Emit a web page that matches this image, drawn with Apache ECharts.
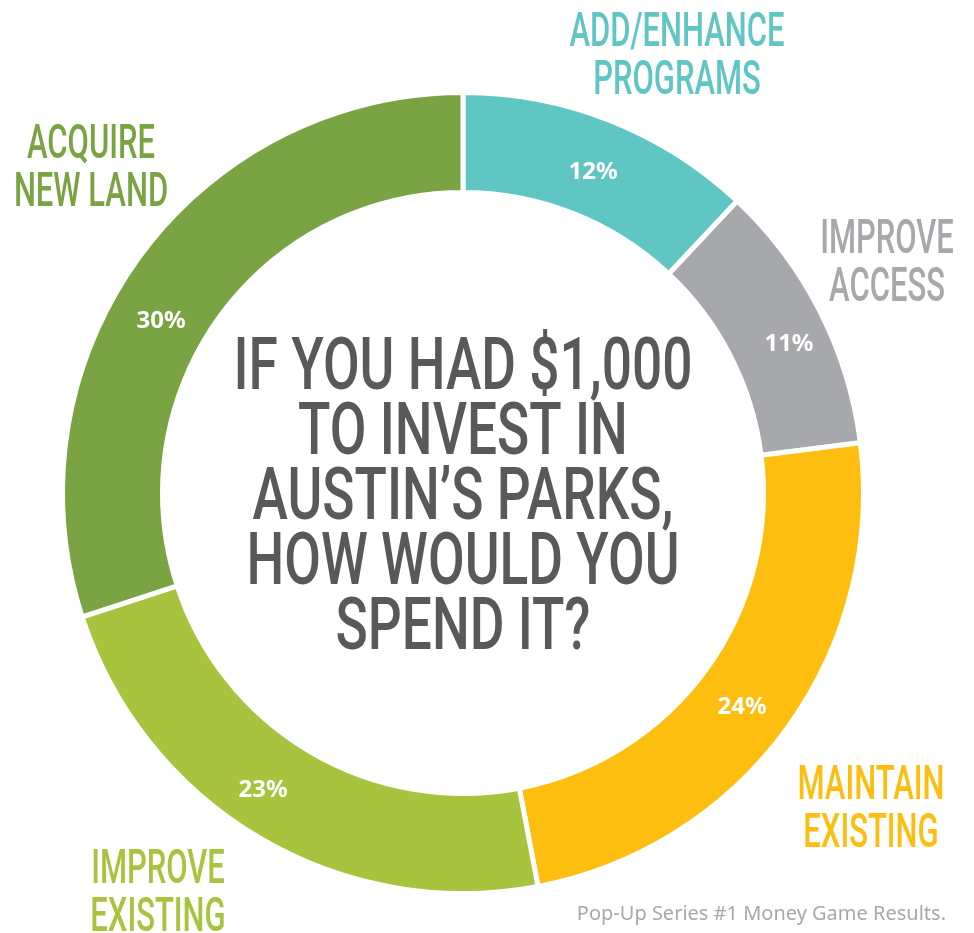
<!DOCTYPE html>
<html>
<head>
<meta charset="utf-8">
<script src="https://cdn.jsdelivr.net/npm/echarts@6/dist/echarts.min.js"></script>
<style>
  html, body { margin: 0; padding: 0; background: #fff; }
  #chart { width: 974px; height: 933px; }
</style>
</head>
<body>
<div id="chart"></div>
<script>
// survey results, clockwise from 12 o'clock
const categories = ['ADD/ENHANCE PROGRAMS', 'IMPROVE ACCESS', 'MAINTAIN EXISTING', 'IMPROVE EXISTING', 'ACQUIRE NEW LAND']
const shares = [12, 11, 24, 23, 30]
const colors = ['#5fc6c4', '#a7a8ab', '#fdbe10', '#a8c43e', '#7aa444']
const title = ['IF YOU HAD $1,000', 'TO INVEST IN', 'AUSTIN\u2019S PARKS,', 'HOW WOULD YOU', 'SPEND IT?']
const footnote = 'Pop-Up Series #1 Money Game Results.'

// where each category name sits around the ring (center x, center y)
const labelPos = [[677, 56], [887, 263], [871, 809], [158, 893], [91, 168]]
// small shifts of the % labels off the slice middle, as in the original
const pctNudge = [[0, 8], [11, 12], [-7, 6], [-20, -7], [-16, 36]]

// condensed look: squeeze normal fonts horizontally
const ctx = document.createElement('canvas').getContext('2d')
ctx.font = '500 72px Roboto'
const titleScale = 459 / ctx.measureText(title[0]).width
ctx.font = '500 48px Roboto'
const labelScale = 147 / ctx.measureText('MAINTAIN').width

const splitName = s => {
  const i = s.indexOf(' ')
  return s.slice(0, i) + '\n' + s.slice(i + 1)
}

const chart = echarts.init(document.getElementById('chart'))

chart.setOption({
  animation: false,
  backgroundColor: '#fff',
  series: [{
    type: 'pie',
    center: [463, 493],
    radius: [300.5, 400.5],
    startAngle: 90,
    clockwise: true,
    silent: true,
    label: {
      show: true,
      position: 'inside',
      formatter: '{c}%',
      color: '#fff',
      fontFamily: 'Noto Sans',
      fontWeight: 'bold',
      fontSize: 24,
    },
    labelLine: { show: false },
    itemStyle: { borderColor: '#fff', borderWidth: 5 },
    data: categories.map((name, i) => ({
      name,
      value: shares[i],
      itemStyle: { color: colors[i] },
      label: { offset: pctNudge[i] },
    })),
  }],
  graphic: [
    {
      type: 'text',
      x: 463,
      y: 501,
      scaleX: titleScale,
      style: {
        text: title.join('\n'),
        fill: '#58595b',
        fontFamily: 'Roboto',
        fontWeight: 500,
        fontSize: 72,
        lineHeight: 65,
        align: 'center',
        verticalAlign: 'middle',
      },
    },
    ...categories.map((name, i) => ({
      type: 'text',
      x: labelPos[i][0],
      y: labelPos[i][1] + 2,
      scaleX: labelScale,
      style: {
        text: splitName(name),
        fill: colors[i],
        fontFamily: 'Roboto',
        fontWeight: 500,
        fontSize: 48,
        lineHeight: 48,
        align: 'center',
        verticalAlign: 'middle',
      },
    })),
    {
      type: 'text',
      x: 946,
      y: 914,
      style: {
        text: footnote,
        fill: '#a7a8ab',
        fontFamily: 'Noto Sans',
        fontSize: 20,
        align: 'right',
        verticalAlign: 'middle',
      },
    },
  ],
})
</script>
</body>
</html>
